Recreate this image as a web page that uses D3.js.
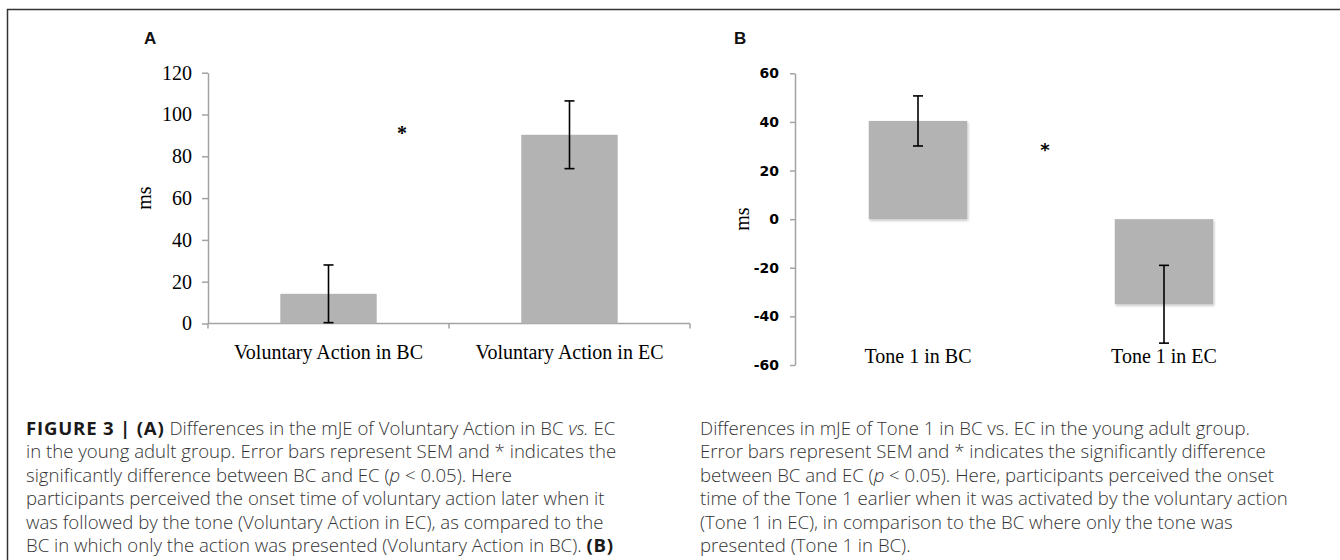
<!DOCTYPE html>
<html>
<head>
<meta charset="utf-8">
<script src="https://cdn.jsdelivr.net/npm/d3@7"></script>
<style>
    body { margin: 0; background: #ffffff; }
    svg { display: block; }
</style>
</head>
<body>
<div id="chart"></div>
<script>
// Figure 3: mJE differences, two bar panels with SEM error bars

var catsA = ["Voluntary Action in BC", "Voluntary Action in EC"];
var meansA = [14.2, 90.3];
var semA = [13.8, 16.2];
var ticksA = [0, 20, 40, 60, 80, 100, 120];

var catsB = ["Tone 1 in BC", "Tone 1 in EC"];
var meansB = [40.4, -35];
var semB = [10.3, 16];
var ticksB = [-60, -40, -20, 0, 20, 40, 60];

var captionA = [
    [["b", "FIGURE 3 | (A)"], ["n", " Differences in the mJE of Voluntary Action in BC "], ["i", "vs."], ["n", " EC"]],
    [["n", "in the young adult group. Error bars represent SEM and * indicates the"]],
    [["n", "significantly difference between BC and EC ("], ["i", "p"], ["n", " < 0.05). Here"]],
    [["n", "participants perceived the onset time of voluntary action later when it"]],
    [["n", "was followed by the tone (Voluntary Action in EC), as compared to the"]],
    [["n", "BC in which only the action was presented (Voluntary Action in BC). "], ["b", "(B)"]]
];

var captionB = [
    [["n", "Differences in mJE of Tone 1 in BC vs. EC in the young adult group."]],
    [["n", "Error bars represent SEM and * indicates the significantly difference"]],
    [["n", "between BC and EC ("], ["i", "p"], ["n", " < 0.05). Here, participants perceived the onset"]],
    [["n", "time of the Tone 1 earlier when it was activated by the voluntary action"]],
    [["n", "(Tone 1 in EC), in comparison to the BC where only the tone was"]],
    [["n", "presented (Tone 1 in BC)."]]
];

(function() {

    var width = 1340;
    var height = 560;

    var serif = "'Liberation Serif', 'Times New Roman', serif";
    var sans = "'Liberation Sans', Arial, sans-serif";
    var barFill = "#b3b3b3";
    var axisColor = "#a3a3a3";

    var svg = d3.select("#chart")
        .append("svg")
        .attr("width", width)
        .attr("height", height);

    svg.append("rect")
        .attr("width", width)
        .attr("height", height)
        .attr("fill", "#ffffff");

    // soft shadow under the panel B bars
    svg.append("defs")
        .append("filter")
        .attr("id", "shadow")
        .attr("x", "-10%")
        .attr("y", "-10%")
        .attr("width", "130%")
        .attr("height", "130%")
        .append("feDropShadow")
        .attr("dx", 1)
        .attr("dy", 1.5)
        .attr("stdDeviation", 1.2)
        .attr("flood-color", "#000000")
        .attr("flood-opacity", 0.25);

    // figure frame (open at right / bottom edge of the crop)
    svg.append("path")
        .attr("d", "M7.5," + (height + 5) + "V9.5H" + (width + 5))
        .attr("fill", "none")
        .attr("stroke", "#333333")
        .attr("stroke-width", 1.5);

    // panel letters
    svg.append("text")
        .attr("x", 144)
        .attr("y", 44)
        .attr("font-family", sans)
        .attr("font-weight", "bold")
        .attr("font-size", "17px")
        .attr("fill", "#111111")
        .text("A");

    svg.append("text")
        .attr("x", 734)
        .attr("y", 44)
        .attr("font-family", sans)
        .attr("font-weight", "bold")
        .attr("font-size", "17px")
        .attr("fill", "#111111")
        .text("B");

    // ---------- Panel A ----------
    var xA = d3.scaleBand()
        .domain(catsA)
        .range([208, 690])
        .paddingInner(0)
        .paddingOuter(0);

    var yA = d3.scaleLinear()
        .domain([0, 120])
        .range([323.5, 72.7]);

    var gA = svg.append("g");

    var axisA = gA.append("g")
        .attr("transform", "translate(208,0)")
        .call(d3.axisLeft(yA).tickValues(ticksA).tickSize(6).tickSizeOuter(0).tickPadding(10));

    axisA.select(".domain").attr("stroke", axisColor).attr("stroke-width", 1.5);
    axisA.selectAll(".tick line").attr("stroke", axisColor).attr("stroke-width", 1.5);
    axisA.selectAll(".tick text")
        .attr("font-family", serif)
        .attr("font-size", "20px")
        .attr("fill", "#000000");

    // x baseline with ticks at the category boundaries
    gA.append("line")
        .attr("x1", xA.range()[0])
        .attr("x2", xA.range()[1])
        .attr("y1", yA(0))
        .attr("y2", yA(0))
        .attr("stroke", axisColor)
        .attr("stroke-width", 1.5);

    gA.selectAll(".bound")
        .data(d3.range(catsA.length + 1))
        .enter()
        .append("line")
        .attr("x1", function(i) { return xA.range()[0] + i * xA.step(); })
        .attr("x2", function(i) { return xA.range()[0] + i * xA.step(); })
        .attr("y1", yA(0))
        .attr("y2", yA(0) + 5)
        .attr("stroke", axisColor)
        .attr("stroke-width", 1.5);

    var barWA = xA.bandwidth() * 0.4;

    gA.selectAll(".bar")
        .data(meansA)
        .enter()
        .append("rect")
        .attr("x", function(d, i) { return xA(catsA[i]) + xA.bandwidth() / 2 - barWA / 2; })
        .attr("y", function(d) { return yA(d); })
        .attr("width", barWA)
        .attr("height", function(d) { return yA(0) - yA(d); })
        .attr("fill", barFill);

    drawErrors(gA, meansA, semA, catsA, xA, yA);

    gA.selectAll(".cat")
        .data(catsA)
        .enter()
        .append("text")
        .attr("x", function(d) { return xA(d) + xA.bandwidth() / 2; })
        .attr("y", 359)
        .attr("text-anchor", "middle")
        .attr("font-family", serif)
        .attr("font-size", "20px")
        .attr("fill", "#000000")
        .text(function(d) { return d; });

    gA.append("text")
        .attr("transform", "translate(151," + yA(60) + ") rotate(-90)")
        .attr("text-anchor", "middle")
        .attr("font-family", serif)
        .attr("font-size", "20px")
        .attr("fill", "#000000")
        .text("ms");

    gA.append("text")
        .attr("x", 402)
        .attr("y", 140)
        .attr("text-anchor", "middle")
        .attr("font-family", serif)
        .attr("font-weight", "bold")
        .attr("font-size", "20px")
        .attr("fill", "#000000")
        .text("*");

    // ---------- Panel B ----------
    var xB = d3.scaleBand()
        .domain(catsB)
        .range([795, 1287])
        .paddingInner(0)
        .paddingOuter(0);

    var yB = d3.scaleLinear()
        .domain([-60, 60])
        .range([365, 73.3]);

    var gB = svg.append("g");

    var axisB = gB.append("g")
        .attr("transform", "translate(795,0)")
        .call(d3.axisLeft(yB)
            .tickValues(ticksB)
            .tickFormat(function(d) { return String(d); })
            .tickSize(5)
            .tickSizeOuter(0)
            .tickPadding(11));

    axisB.select(".domain").attr("stroke", axisColor).attr("stroke-width", 1.5);
    axisB.selectAll(".tick line").attr("stroke", axisColor).attr("stroke-width", 1.5);
    axisB.selectAll(".tick text")
        .attr("font-family", "'DejaVu Sans', Verdana, sans-serif")
        .attr("font-weight", "bold")
        .attr("font-size", "14px")
        .attr("fill", "#000000");

    var barWB = xB.bandwidth() * 0.4;

    gB.selectAll(".bar")
        .data(meansB)
        .enter()
        .append("rect")
        .attr("x", function(d, i) { return xB(catsB[i]) + xB.bandwidth() / 2 - barWB / 2; })
        .attr("y", function(d) { return Math.min(yB(d), yB(0)); })
        .attr("width", barWB)
        .attr("height", function(d) { return Math.abs(yB(0) - yB(d)); })
        .attr("fill", barFill)
        .attr("filter", "url(#shadow)");

    drawErrors(gB, meansB, semB, catsB, xB, yB);

    gB.selectAll(".cat")
        .data(catsB)
        .enter()
        .append("text")
        .attr("x", function(d) { return xB(d) + xB.bandwidth() / 2; })
        .attr("y", 363)
        .attr("text-anchor", "middle")
        .attr("font-family", serif)
        .attr("font-size", "20px")
        .attr("fill", "#000000")
        .text(function(d) { return d; });

    gB.append("text")
        .attr("transform", "translate(749," + yB(0) + ") rotate(-90)")
        .attr("text-anchor", "middle")
        .attr("font-family", serif)
        .attr("font-size", "20px")
        .attr("fill", "#000000")
        .text("ms");

    gB.append("text")
        .attr("x", 1045)
        .attr("y", 156)
        .attr("text-anchor", "middle")
        .attr("font-family", "'DejaVu Sans', sans-serif")
        .attr("font-weight", "bold")
        .attr("font-size", "18px")
        .attr("fill", "#000000")
        .text("*");

    // ---------- Caption ----------
    drawCaption(captionA, 26);
    drawCaption(captionB, 700);

    function drawErrors(g, means, sems, cats, x, y) {
        var capW = 5;

        var err = g.selectAll(".err")
            .data(means)
            .enter()
            .append("g")
            .attr("stroke", "#000000")
            .attr("stroke-width", 1.6);

        err.append("line")
            .attr("x1", function(d, i) { return x(cats[i]) + x.bandwidth() / 2; })
            .attr("x2", function(d, i) { return x(cats[i]) + x.bandwidth() / 2; })
            .attr("y1", function(d, i) { return y(d + sems[i]); })
            .attr("y2", function(d, i) { return y(d - sems[i]); });

        [1, -1].forEach(function(sign) {
            err.append("line")
                .attr("x1", function(d, i) { return x(cats[i]) + x.bandwidth() / 2 - capW; })
                .attr("x2", function(d, i) { return x(cats[i]) + x.bandwidth() / 2 + capW; })
                .attr("y1", function(d, i) { return y(d + sign * sems[i]); })
                .attr("y2", function(d, i) { return y(d + sign * sems[i]); });
        });
    }

    function drawCaption(lines, left) {
        var cap = svg.append("g")
            .attr("font-family", "'Open Sans', 'Liberation Sans', sans-serif")
            .attr("font-size", "18.6px")
            .attr("font-weight", 300)
            .attr("fill", "#333333");

        lines.forEach(function(parts, i) {
            var t = cap.append("text")
                .attr("x", left)
                .attr("y", 435 + i * 23.4)
                .attr("xml:space", "preserve");

            parts.forEach(function(p) {
                var span = t.append("tspan").text(p[1]);
                if (p[0] === "b") {
                    span.attr("font-weight", "bold")
                        .attr("fill", "#1a1a1a")
                        .attr("letter-spacing", "0.8px");
                }
                if (p[0] === "i") {
                    span.attr("font-style", "italic");
                }
            });
        });
    }

})();
</script>
</body>
</html>
